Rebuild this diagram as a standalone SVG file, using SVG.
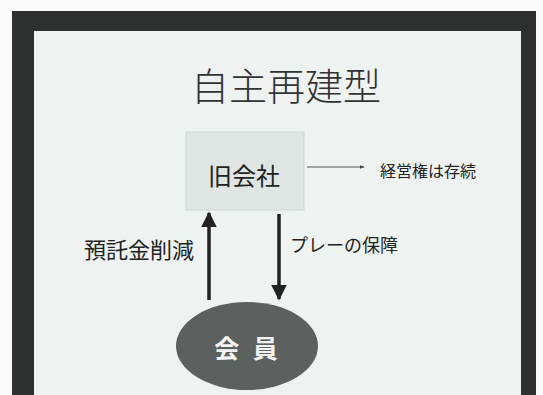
<svg xmlns="http://www.w3.org/2000/svg" width="543" height="395" viewBox="0 0 543 395">
<defs>
<style>
.t{font-family:"Noto Sans CJK JP","Noto Sans CJK SC",sans-serif;fill:#222}
.c{stroke:#222;fill:none}
</style>
<marker id="ah" viewBox="0 0 10 10" refX="9" refY="5" markerWidth="4.5" markerHeight="4.5" orient="auto"><path d="M0,0 L10,5 L0,10 z" fill="#222"/></marker>
<marker id="sh" viewBox="0 0 10 10" refX="9" refY="5" markerWidth="5" markerHeight="5" orient="auto"><path d="M0,1 L10,5 L0,9 z" fill="#444"/></marker>
</defs>
<rect width="543" height="395" fill="#fafafa"/>
<rect x="12" y="11" width="524" height="384" fill="#2e302f"/>
<rect x="34" y="31" width="487" height="364" fill="#eef2f0"/>
<text class="t" x="286" y="100" font-size="38" text-anchor="middle" font-weight="300" style="fill:#333">自主再建型</text>
<g id="old-company">
<rect x="186" y="132" width="118" height="78" fill="#dfe5e2" stroke="#cfd6d2"/>
<text class="t" x="244" y="185" font-size="24" text-anchor="middle">旧会社</text>
</g>
<g id="members">
<ellipse cx="247" cy="346" rx="71" ry="44" fill="#5c605e"/>
<text x="248" y="358" font-size="25" text-anchor="middle" font-weight="bold" font-family="Noto Sans CJK JP,sans-serif" fill="#f4f4f4" letter-spacing="4">会 員</text>
</g>
<g id="note">
<text class="t" x="380" y="177" font-size="16" fill="#444">経営権は存続</text>
</g>
<g id="connectors">
<line class="c" x1="209" y1="300" x2="209" y2="213" stroke-width="3.5" marker-end="url(#ah)"/>
<line class="c" x1="279" y1="214" x2="279" y2="299" stroke-width="3.5" marker-end="url(#ah)"/>
<line x1="307" y1="167" x2="364" y2="167" stroke="#555" stroke-width="1" marker-end="url(#sh)"/>
</g>
<text class="t" x="84" y="258" font-size="22">預託金削減</text>
<text class="t" x="290" y="252" font-size="18">プレーの保障</text>
</svg>
